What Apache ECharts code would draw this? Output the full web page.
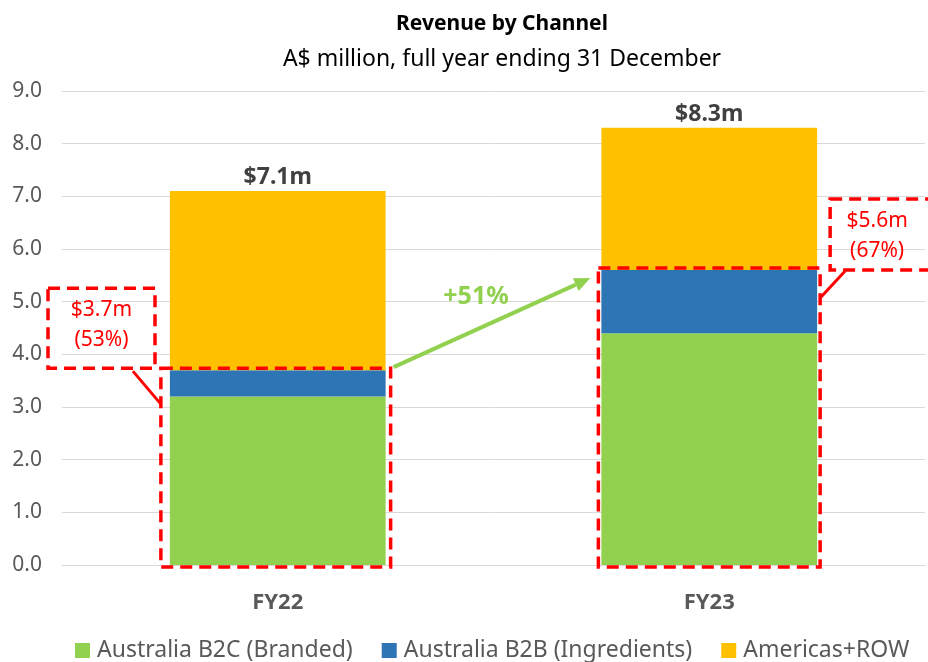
<!DOCTYPE html>
<html lang="en">
<head>
    <meta charset="utf-8">
    <title>Revenue by Channel</title>
    <script src="https://cdn.jsdelivr.net/npm/echarts@6/dist/echarts.min.js"></script>
</head>
<body style="margin:0">
<div id="main" style="width: 928px;height:662px;"></div>
<script type="text/javascript">
    // data (A$ million)
    var years = ['FY22', 'FY23'];
    var b2c = [3.2, 4.4];
    var b2b = [0.5, 1.2];
    var americas = [3.4, 2.7];
    var totals = ['$7.1m', '$8.3m'];
    var ausTotal = [3.7, 5.6];
    var calloutText = [['$3.7m', '(53%)'], ['$5.6m', '(67%)']];
    var growthText = '+51%';

    var font = 'Noto Sans';
    var grey = '#595959';
    var red = '#ff0000';
    var green = '#92d050';

    var myChart = echarts.init(document.getElementById('main'));
    myChart.setOption({
        animation: false,
        textStyle: { fontFamily: font },
        title: [{
            text: 'Revenue by Channel',
            left: 497,
            textAlign: 'center',
            top: 9,
            textStyle: { fontSize: 21, fontWeight: 'bold', color: '#000' }
        }, {
            text: 'A$ million, full year ending 31 December',
            left: 497,
            textAlign: 'center',
            top: 43,
            textStyle: { fontSize: 23, fontWeight: 'normal', color: '#000' }
        }],
        grid: { left: 62, right: 3, top: 91, bottom: 97 },
        legend: {
            top: 634,
            left: 70,
            icon: 'rect',
            itemWidth: 15,
            itemHeight: 15,
            itemGap: 29,
            textStyle: { fontSize: 23, color: grey, padding: [0, 0, 0, 2] }
        },
        xAxis: {
            type: 'category',
            data: years,
            axisTick: { show: false },
            axisLine: { lineStyle: { color: '#d9d9d9' } },
            axisLabel: { fontSize: 22, fontWeight: 'bold', color: grey, margin: 27 }
        },
        yAxis: {
            type: 'value',
            min: 0,
            max: 9,
            interval: 1,
            axisLabel: {
                fontSize: 21, color: grey, margin: 20,
                formatter: function (v) { return v.toFixed(1); }
            },
            splitLine: { lineStyle: { color: '#d9d9d9' } }
        },
        series: [{
            name: 'Australia B2C (Branded)',
            type: 'bar',
            stack: 'rev',
            barWidth: '50%',
            itemStyle: { color: green },
            data: b2c
        }, {
            name: 'Australia B2B (Ingredients)',
            type: 'bar',
            stack: 'rev',
            itemStyle: { color: '#2e75b6' },
            data: b2b
        }, {
            name: 'Americas+ROW',
            type: 'bar',
            stack: 'rev',
            itemStyle: { color: '#ffc000' },
            label: {
                show: true,
                position: 'top',
                distance: 2,
                fontSize: 23,
                fontWeight: 'bold',
                color: '#404040',
                formatter: function (p) { return totals[p.dataIndex]; }
            },
            data: americas
        }]
    });

    // annotations: dashed boxes, callouts and growth arrow
    function px(i, v) { return myChart.convertToPixel({ seriesIndex: 0 }, [i, v]); }
    var band = px(1, 0)[0] - px(0, 0)[0];
    var half = band * 0.25;
    var dash = { stroke: red, lineWidth: 3.5, lineDash: [12, 7], fill: 'none' };
    var g = [];
    var boxes = [];
    years.forEach(function (y, i) {
        var c = px(i, 0)[0];
        var top = px(i, ausTotal[i])[1];
        var bottom = px(i, 0)[1];
        var l = c - half - (i === 0 ? 9 : 3);
        var r = c + half + (i === 0 ? 5 : 3);
        boxes.push({ l: l, r: r, t: top - 2, b: bottom + 2 });
        g.push({ type: 'rect', shape: { x: l, y: top - 2, width: r - l, height: bottom - top + 4 }, style: dash, z: 100 });
    });
    // FY22 callout (left)
    var b0 = boxes[0];
    var c0 = { x: 48, y: b0.t - 80, w: 107, h: 80 };
    g.push({ type: 'rect', shape: { x: c0.x, y: c0.y, width: c0.w, height: c0.h }, style: dash, z: 100 });
    g.push({ type: 'line', shape: { x1: b0.l - 28, y1: b0.t + 3, x2: b0.l, y2: b0.t + 36 }, style: { stroke: red, lineWidth: 3 }, z: 100 });
    // FY23 callout (right)
    var b1 = boxes[1];
    var c1 = { x: b1.r + 10, y: b1.t - 69, w: 110, h: 71 };
    g.push({ type: 'rect', shape: { x: c1.x, y: c1.y, width: c1.w, height: c1.h }, style: dash, z: 100 });
    g.push({ type: 'line', shape: { x1: b1.r + 25, y1: b1.t + 3, x2: b1.r, y2: b1.t + 30 }, style: { stroke: red, lineWidth: 3 }, z: 100 });
    [[c0, 0], [c1, 1]].forEach(function (a) {
        var box = a[0], txt = calloutText[a[1]];
        var cx = a[1] === 0 ? box.x + box.w / 2 : box.x + 47;
        g.push({ type: 'text', x: cx, y: box.y + 22, style: { text: txt[0], fill: red, font: '21px "Noto Sans"', align: 'center', verticalAlign: 'middle' }, z: 101 });
        g.push({ type: 'text', x: cx, y: box.y + 52, style: { text: txt[1], fill: red, font: '21px "Noto Sans"', align: 'center', verticalAlign: 'middle' }, z: 101 });
    });
    // growth arrow
    var ax1 = b0.r + 3, ay1 = b0.t - 1;
    var ax2 = b1.l - 8, ay2 = px(1, 5.45)[1];
    var ang = Math.atan2(ay2 - ay1, ax2 - ax1);
    var hl = 16, hw = 7;
    var bx = ax2 - hl * Math.cos(ang), by = ay2 - hl * Math.sin(ang);
    g.push({ type: 'line', shape: { x1: ax1, y1: ay1, x2: bx, y2: by }, style: { stroke: green, lineWidth: 4 }, z: 100 });
    g.push({ type: 'polygon', shape: { points: [
        [ax2, ay2],
        [bx - hw * Math.sin(ang), by + hw * Math.cos(ang)],
        [bx + hw * Math.sin(ang), by - hw * Math.cos(ang)]
    ] }, style: { fill: green }, z: 100 });
    g.push({ type: 'text', x: 476, y: (ay1 + ay2) / 2 - 26, style: { text: growthText, fill: green, font: 'bold 25px "Noto Sans"', align: 'center', verticalAlign: 'middle' }, z: 101 });
    myChart.setOption({ graphic: g });
</script>
</body>
</html>
